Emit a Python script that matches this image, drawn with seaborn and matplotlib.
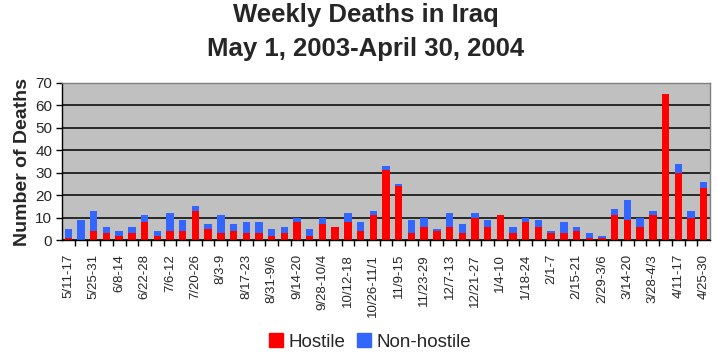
import numpy as np
import pandas as pd
import matplotlib
matplotlib.use("Agg")
import matplotlib.pyplot as plt
import seaborn as sns
from matplotlib.patches import Patch

# ================================
# Data
# ================================
weeks = [
    "5/11-17", "5/18-24", "5/25-31", "6/1-7", "6/8-14", "6/15-21", "6/22-28",
    "6/29-7/5", "7/6-12", "7/13-19", "7/20-26", "7/27-8/2", "8/3-9", "8/10-16",
    "8/17-23", "8/24-30", "8/31-9/6", "9/7-13", "9/14-20", "9/21-27",
    "9/28-10/4", "10/5-11", "10/12-18", "10/19-25", "10/26-11/1", "11/2-8",
    "11/9-15", "11/16-22", "11/23-29", "11/30-12/6", "12/7-13", "12/14-20",
    "12/21-27", "12/28-1/3", "1/4-10", "1/11-17", "1/18-24", "1/25-31",
    "2/1-7", "2/8-14", "2/15-21", "2/22-28", "2/29-3/6", "3/7-13", "3/14-20",
    "3/21-27", "3/28-4/3", "4/4-10", "4/11-17", "4/18-24", "4/25-30",
]
hostile = [
    1, 0, 4, 3, 2, 3, 8, 2, 4, 4, 13, 5, 3, 4, 3, 3, 2, 3, 8, 2,
    7, 6, 8, 4, 11, 31, 24, 3, 6, 4, 6, 3, 10, 6, 11, 3, 8, 6, 3, 3,
    4, 1, 1, 11, 9, 6, 11, 65, 30, 10, 23,
]
non_hostile = [
    4, 9, 9, 3, 2, 3, 3, 2, 8, 5, 2, 2, 8, 3, 5, 5, 3, 3, 2, 3,
    3, 0, 4, 4, 2, 2, 1, 6, 4, 1, 6, 4, 2, 3, 0, 3, 2, 3, 1, 5,
    2, 2, 1, 3, 9, 4, 2, 0, 4, 3, 3,
]

df = pd.DataFrame({"Week": weeks, "Hostile": hostile, "Non-hostile": non_hostile})
df["Total"] = df["Hostile"] + df["Non-hostile"]

red = "#FF0000"
blue = "#3366FF"

# ================================
# Plot
# ================================
sns.set_theme(style="white")
plt.rcParams["font.family"] = ["Liberation Sans", "DejaVu Sans"]

fig = plt.figure(figsize=(7.17, 3.58), dpi=100)
ax = fig.add_axes([62 / 717, 1 - 240 / 358, 648 / 717, 157 / 358])

# stacked bars: total in blue, hostile drawn over it in red
sns.barplot(data=df, x="Week", y="Total", color=blue, saturation=1, width=0.58,
            linewidth=0, ax=ax)
sns.barplot(data=df, x="Week", y="Hostile", color=red, saturation=1, width=0.58,
            linewidth=0, ax=ax)

ax.set_facecolor("#C0C0C0")
ax.set_ylim(0, 70)
ax.set_xlim(-0.5, len(weeks) - 0.5)
ax.set_yticks(range(0, 71, 10))
ax.yaxis.grid(True, color="black", linewidth=1.1)
ax.set_axisbelow(True)

# label every other week, tick marks between categories
pos = np.arange(len(weeks))
ax.set_xticks(pos[::2])
ax.set_xticklabels(weeks[::2], rotation=90, fontsize=9.5)
ax.set_xticks(pos[:-1] + 0.5, minor=True)
ax.tick_params(axis="x", which="major", length=0, pad=10)
ax.tick_params(axis="x", which="minor", length=4, width=1, color="black", bottom=True)
ax.tick_params(axis="y", length=4, width=1, color="black", left=True, labelsize=11, pad=3)

for s in ["left", "bottom"]:
    ax.spines[s].set_color("black")
    ax.spines[s].set_linewidth(1)
for s in ["top", "right"]:
    ax.spines[s].set_color("#808080")
    ax.spines[s].set_linewidth(1)

ax.set_xlabel("")
ax.set_ylabel("Number of Deaths", fontsize=14, fontweight="bold", labelpad=3)

fig.text(0.51, 1 - 22 / 358, "Weekly Deaths in Iraq",
         ha="center", va="baseline", fontsize=18.5, fontweight="bold")
fig.text(0.51, 1 - 56 / 358, "May 1, 2003-April 30, 2004",
         ha="center", va="baseline", fontsize=18.5, fontweight="bold")

handles = [Patch(color=red, label="Hostile"), Patch(color=blue, label="Non-hostile")]
fig.legend(handles=handles, loc="center", bbox_to_anchor=(370 / 717, 1 - 342 / 358),
           ncol=2, frameon=False, fontsize=13.5, handlelength=0.75, handleheight=0.75,
           handletextpad=0.3, columnspacing=0.6)

fig.savefig("out.png", dpi=100)
